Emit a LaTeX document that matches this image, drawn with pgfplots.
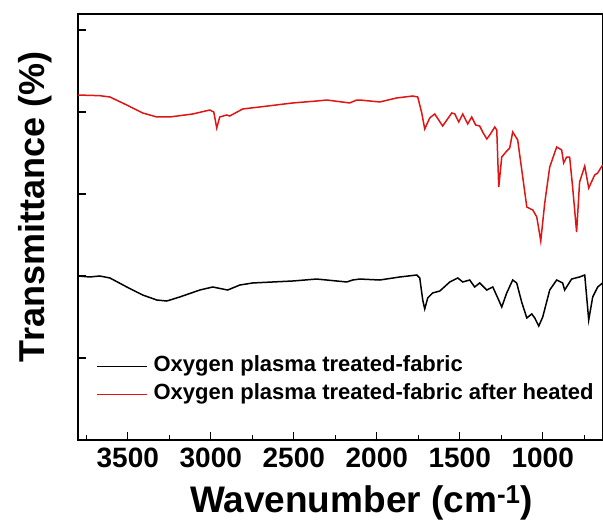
\documentclass[border=0pt]{standalone}
\usepackage{pgfplots}
\pgfplotsset{compat=1.18}
\usepackage{fontspec}
\setmainfont{Liberation Sans}
\definecolor{myred}{RGB}{225,20,20}
\newcommand{\tl}[1]{\fontsize{28}{28}\selectfont\bfseries #1}
\begin{document}
\begin{tikzpicture}
\useasboundingbox (-78pt,-82pt) rectangle (525pt,440pt);
\begin{axis}[
  at={(0,0)}, anchor=south west,
  scale only axis, width=525pt, height=426pt,
  x dir=reverse, xmin=637, xmax=3800,
  ymin=0, ymax=5.195,
  xtick={1000,1500,2000,2500,3000,3500},
  xticklabels={\tl{1000},\tl{1500},\tl{2000},\tl{2500},\tl{3000},\tl{3500}},
  minor xtick={750,1250,1750,2250,2750,3250,3750},
  ytick={0,1,2,3,4,5}, yticklabels={},
  tick pos=left, tick align=inside,
  major tick length=8pt, minor tick length=5pt,
  axis line style={line width=1.4pt},
  every tick/.style={line width=1.4pt, black},
  xticklabel style={yshift=-4pt},
  xlabel={Wavenumber (cm\textsuperscript{-1})},
  xlabel style={font=\fontsize{37}{37}\selectfont\bfseries, at={(axis description cs:0.54,0)}, anchor=base, yshift=-73pt},
  ylabel={Transmittance (\%)},
  ylabel style={font=\fontsize{36}{36}\selectfont\bfseries, at={(axis description cs:-0.0629,0.547)}, anchor=base, rotate=0},
  legend style={draw=none, fill=none, at={(axis description cs:0.034,0.1397)}, anchor=west, inner sep=0pt, row sep=6pt,
    font=\fontsize{22}{22}\selectfont\bfseries, nodes={inner sep=1pt, text height=15pt, text depth=5pt}},
  legend cell align=left,
  legend image code/.code={\draw[#1, line width=1.5pt] (0pt,0pt) -- (50pt,0pt); \path (55pt,0pt);},
]
\addplot[black, line width=1.5pt] coordinates {
(3800,2.000) (3729,1.988) (3669,2.000) (3608,1.976) (3506,1.866) (3410,1.768) (3325,1.707) (3265,1.695) (3187,1.744) (3066,1.829) (2988,1.866) (2928,1.841) (2898,1.829) (2825,1.890) (2747,1.915) (2506,1.939) (2362,1.963) (2181,1.927) (2145,1.951) (2102,1.963) (1982,1.951) (1861,1.988) (1759,2.012) (1741,1.976) (1723,1.707) (1711,1.598) (1693,1.732) (1663,1.793) (1620,1.817) (1560,1.927) (1512,1.976) (1482,1.927) (1440,1.951) (1410,1.866) (1380,1.915) (1337,1.829) (1301,1.866) (1271,1.732) (1247,1.622) (1217,1.793) (1181,1.951) (1157,1.915) (1127,1.683) (1096,1.488) (1066,1.537) (1048,1.488) (1024,1.390) (1000,1.500) (958,1.829) (916,1.951) (880,1.915) (868,1.829) (826,1.963) (778,1.988) (747,2.012) (723,1.463) (699,1.744) (669,1.866) (639,1.915)
};
\addlegendentry{Oxygen plasma treated-fabric}
\addplot[myred, line width=1.5pt] coordinates {
(3800,4.207) (3669,4.199) (3608,4.183) (3506,4.085) (3410,3.988) (3325,3.939) (3247,3.939) (3108,3.976) (3006,4.024) (2982,4.000) (2964,3.805) (2946,3.939) (2904,3.963) (2886,3.951) (2807,4.037) (2705,4.061) (2506,4.110) (2362,4.134) (2301,4.146) (2163,4.110) (2121,4.146) (2102,4.146) (1982,4.122) (1880,4.171) (1783,4.195) (1753,4.183) (1729,3.988) (1711,3.793) (1681,3.927) (1651,3.976) (1603,3.829) (1548,3.988) (1530,3.976) (1506,3.878) (1482,3.976) (1452,3.854) (1428,3.939) (1404,3.841) (1380,3.829) (1362,3.756) (1337,3.671) (1319,3.720) (1289,3.817) (1277,3.780) (1265,3.085) (1247,3.451) (1217,3.524) (1199,3.561) (1181,3.756) (1151,3.659) (1096,2.841) (1060,2.805) (1036,2.720) (1012,2.427) (988,2.890) (958,3.329) (916,3.573) (886,3.537) (874,3.378) (856,3.451) (838,3.451) (820,3.085) (796,2.537) (778,3.146) (747,3.341) (723,3.073) (687,3.232) (669,3.256) (639,3.354)
};
\addlegendentry{Oxygen plasma treated-fabric after heated}
\end{axis}
\end{tikzpicture}
\end{document}
